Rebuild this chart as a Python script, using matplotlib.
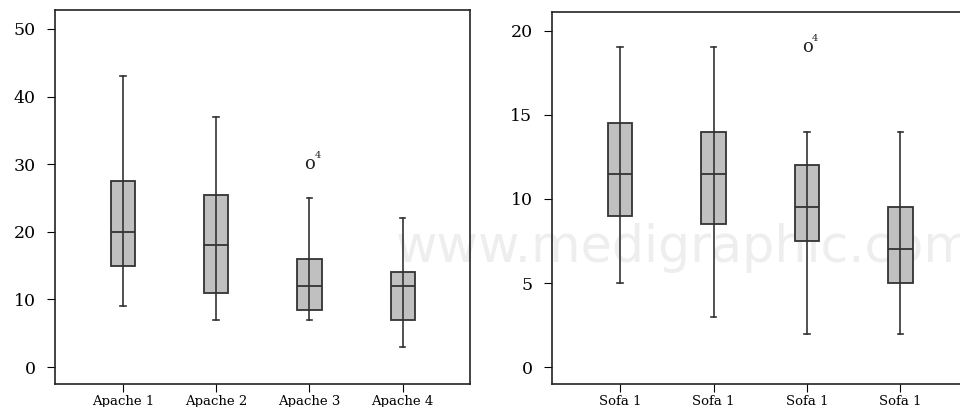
import matplotlib
matplotlib.use('Agg')
import matplotlib.pyplot as plt

plt.rcParams['font.family'] = ['DejaVu Serif']

# Apache scores
apache_labels = ['Apache 1', 'Apache 2', 'Apache 3', 'Apache 4']
apache_whislo = [9, 7, 7, 3]
apache_q1 = [15, 11, 8.5, 7]
apache_med = [20, 18, 12, 12]
apache_q3 = [27.5, 25.5, 16, 14]
apache_whishi = [43, 37, 25, 22]
apache_outlier = (3, 30, '4')   # box index (1-based), value, case label

# Sofa scores
sofa_labels = ['Sofa 1', 'Sofa 1', 'Sofa 1', 'Sofa 1']
sofa_whislo = [5, 3, 2, 2]
sofa_q1 = [9, 8.5, 7.5, 5]
sofa_med = [11.5, 11.5, 9.5, 7]
sofa_q3 = [14.5, 14, 12, 9.5]
sofa_whishi = [19, 19, 14, 14]
sofa_outlier = (3, 19, '4')

edge = '#333333'
fill = '#c0c0c0'


def make_stats(labels, lo, q1, med, q3, hi):
    stats = []
    for i in range(len(labels)):
        stats.append({'label': labels[i], 'whislo': lo[i], 'q1': q1[i], 'med': med[i],
                      'q3': q3[i], 'whishi': hi[i], 'fliers': []})
    return stats


def draw(ax, stats, outlier, yticks, ylim, xpad, xsize):
    ax.set_facecolor('none')
    ax.bxp(stats, positions=[1, 2, 3, 4], widths=0.26, capwidths=0.06,
           showfliers=False, patch_artist=True,
           boxprops=dict(facecolor=fill, edgecolor=edge, linewidth=1.3),
           medianprops=dict(color=edge, linewidth=1.3),
           whiskerprops=dict(color=edge, linewidth=1.2),
           capprops=dict(color=edge, linewidth=1.2))
    # whisker line also passes through the box
    for i, s in enumerate(stats):
        ax.plot([i + 1, i + 1], [s['q1'], s['q3']], color=edge, lw=1.2, zorder=3)
    pos, val, lab = outlier
    ax.text(pos, val, 'o', ha='center', va='center', fontsize=13, color='#222222')
    ax.annotate(lab, (pos, val), xytext=(3.5, 3), textcoords='offset points',
                fontsize=7, color='#222222', ha='left', va='bottom')
    ax.set_xlim(0.27, 4.72)
    ax.set_ylim(*ylim)
    ax.set_yticks(yticks)
    ax.tick_params(axis='y', direction='out', length=6, labelsize=12.5, pad=8)
    ax.tick_params(axis='x', direction='out', length=6, labelsize=xsize, pad=xpad)
    for sp in ax.spines.values():
        sp.set_color('#222222')
        sp.set_linewidth(1.2)


fig = plt.figure(figsize=(9.6, 4.07), dpi=100)
# watermark from the source image
fig.text(0.412, 0.39, 'www.medigraphic.com', fontsize=36.5, color='#eeeeee',
         family='DejaVu Sans', ha='left', va='center', zorder=-1)

ax1 = fig.add_axes([0.0573, 0.0565, 0.432, 0.919])
draw(ax1, make_stats(apache_labels, apache_whislo, apache_q1, apache_med, apache_q3, apache_whishi),
     apache_outlier, [0, 10, 20, 30, 40, 50], (-2.5, 52.8), 2, 9.5)

ax2 = fig.add_axes([0.575, 0.0565, 0.433, 0.914])
draw(ax2, make_stats(sofa_labels, sofa_whislo, sofa_q1, sofa_med, sofa_q3, sofa_whishi),
     sofa_outlier, [0, 5, 10, 15, 20], (-1.0, 21.1), 2, 9.5)

fig.savefig('out.png', dpi=100)
